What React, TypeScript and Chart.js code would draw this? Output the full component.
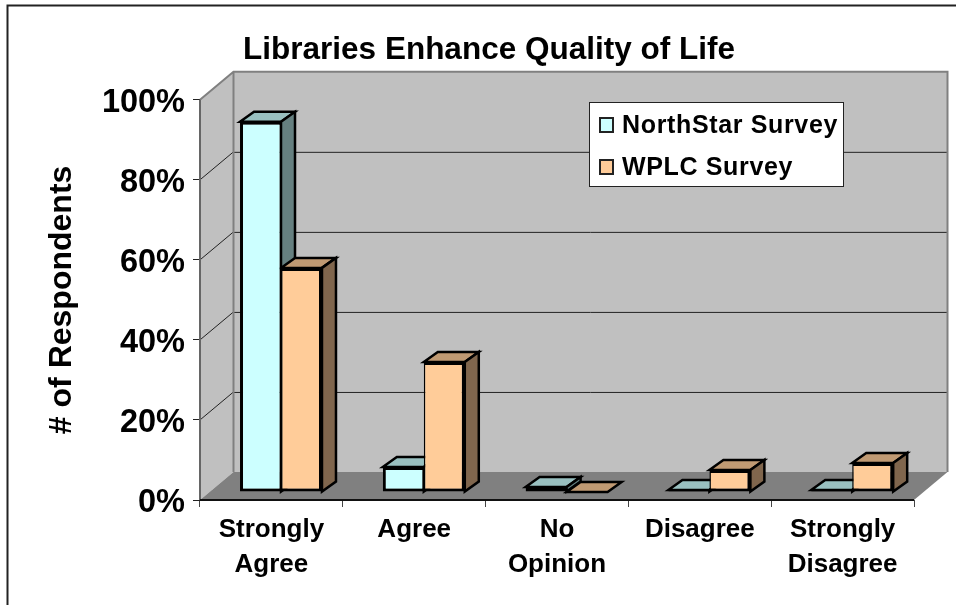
import React, { useEffect, useRef } from "react";
import { Chart, registerables } from "chart.js";

Chart.register(...registerables);

const TITLE = "Libraries Enhance Quality of Life";
const Y_TITLE = "# of Respondents";
const CATEGORIES = [["Strongly", "Agree"], ["Agree"], ["No", "Opinion"], ["Disagree"], ["Strongly", "Disagree"]];
const NORTHSTAR = [92.5, 6.25, 1.25, 0.5, 0.5];
const WPLC = [56, 32.5, 0, 5.5, 7.25];
const SERIES_NAMES = ["NorthStar Survey", "WPLC Survey"];
const FRONT_COLORS = ["#CCFFFF", "#FFCC99"];
const TOP_COLORS = ["#99C0C0", "#C09A73"];
const SIDE_COLORS = ["#668080", "#80664D"];
const FONT = "'Liberation Sans', Arial, sans-serif";

const WALL_DX = 33.5;
const WALL_DY = 28;
const BAR_SHIFT_X = 9.6;
const BAR_SHIFT_Y = 8;
const BAR_DX = 14;
const BAR_DY = 10;

const poly = (ctx: CanvasRenderingContext2D, pts: number[][], fill: string, stroke?: string, lw = 2) => {
  ctx.beginPath();
  pts.forEach(([x, y], i) => (i ? ctx.lineTo(x, y) : ctx.moveTo(x, y)));
  ctx.closePath();
  ctx.fillStyle = fill;
  ctx.fill();
  if (stroke) {
    ctx.strokeStyle = stroke;
    ctx.lineWidth = lw;
    ctx.lineJoin = "miter";
    ctx.stroke();
  }
};

const line = (ctx: CanvasRenderingContext2D, x1: number, y1: number, x2: number, y2: number, color: string, lw: number) => {
  ctx.beginPath();
  ctx.moveTo(x1, y1);
  ctx.lineTo(x2, y2);
  ctx.strokeStyle = color;
  ctx.lineWidth = lw;
  ctx.stroke();
};

const scene3d = {
  id: "scene3d",
  afterLayout(chart: any) {
    chart.titleBlock.left = 22;
    chart.titleBlock.right = 956;
  },
  beforeDraw(chart: any) {
    const { ctx, canvas } = chart;
    ctx.save();
    ctx.fillStyle = "#fff";
    ctx.fillRect(0, 0, canvas.width, canvas.height);
    ctx.beginPath();
    ctx.moveTo(7.5, 605);
    ctx.lineTo(7.5, 5.5);
    ctx.lineTo(956, 5.5);
    ctx.strokeStyle = "#222";
    ctx.lineWidth = 2;
    ctx.stroke();
    ctx.restore();
  },
  beforeDatasetsDraw(chart: any) {
    const { ctx, chartArea: a, scales } = chart;
    const y = scales.y;
    ctx.save();
    // walls and floor
    const bx = WALL_DX, by = WALL_DY;
    poly(ctx, [[a.left, a.bottom], [a.left, a.top], [a.left + bx, a.top - by], [a.left + bx, a.bottom - by]], "#C0C0C0");
    poly(ctx, [[a.left + bx, a.top - by], [a.right + bx, a.top - by], [a.right + bx, a.bottom - by], [a.left + bx, a.bottom - by]], "#C0C0C0");
    poly(ctx, [[a.left, a.bottom], [a.right, a.bottom], [a.right + bx, a.bottom - by], [a.left + bx, a.bottom - by]], "#808080");
    [20, 40, 60, 80].forEach((v) => {
      const py = y.getPixelForValue(v);
      line(ctx, a.left, py, a.left + bx, py - by, "#222", 1);
      line(ctx, a.left + bx, py - by + 0.5, a.right + bx, py - by + 0.5, "#222", 1);
    });
    // wall edges
    ctx.beginPath();
    ctx.moveTo(a.left, a.top);
    ctx.lineTo(a.left + bx, a.top - by);
    ctx.lineTo(a.right + bx, a.top - by);
    ctx.lineTo(a.right + bx, a.bottom - by);
    ctx.moveTo(a.left + bx, a.top - by);
    ctx.lineTo(a.left + bx, a.bottom - by);
    ctx.strokeStyle = "#808080";
    ctx.lineWidth = 2;
    ctx.stroke();
    line(ctx, a.left, a.top, a.left, a.bottom, "#666", 2);
    line(ctx, a.left, a.bottom, a.right, a.bottom, "#111", 2);
    // bars: depth faces first, fronts are drawn by the chart
    ctx.translate(BAR_SHIFT_X, -BAR_SHIFT_Y);
    [0, 1].forEach((ds) => {
      chart.getDatasetMeta(ds).data.forEach((bar: any) => {
        const w = bar.width / 2;
        const l = bar.x - w, r = bar.x + w, t = bar.y, b = bar.base;
        poly(ctx, [[l, t], [r, t], [r + BAR_DX, t - BAR_DY], [l + BAR_DX, t - BAR_DY]], TOP_COLORS[ds], "#000", 2.5);
        if (b > t) poly(ctx, [[r, t], [r + BAR_DX, t - BAR_DY], [r + BAR_DX, b - BAR_DY], [r, b]], SIDE_COLORS[ds], "#000", 2.5);
      });
    });
  },
  afterDatasetsDraw(chart: any) {
    const { ctx } = chart;
    ctx.restore();
    // legend box
    ctx.save();
    const lx = 589.5, ly = 102.5, lw = 254, lh = 84;
    ctx.fillStyle = "#fff";
    ctx.fillRect(lx, ly, lw, lh);
    ctx.strokeStyle = "#222";
    ctx.lineWidth = 1;
    ctx.strokeRect(lx, ly, lw, lh);
    ctx.font = `bold 25px ${FONT}`;
    ctx.textBaseline = "middle";
    ctx.textAlign = "left";
    (ctx as any).letterSpacing = "0.65px";
    chart.data.datasets.forEach((d: any, i: number) => {
      const cy = 125 + i * 42;
      ctx.fillStyle = d.backgroundColor;
      ctx.fillRect(600, cy - 7, 13, 14);
      ctx.strokeStyle = "#222";
      ctx.lineWidth = 2;
      ctx.strokeRect(600, cy - 7, 13, 14);
      ctx.fillStyle = "#000";
      ctx.fillText(d.label, 622, cy + 1);
    });
    ctx.restore();
  },
};

export default function App() {
  const ref = useRef<HTMLCanvasElement>(null);
  useEffect(() => {
    document.body.style.margin = "0";
    const chart = new Chart(ref.current!, {
      type: "bar",
      data: {
        labels: CATEGORIES as any,
        datasets: [NORTHSTAR, WPLC].map((data, i) => ({
          label: SERIES_NAMES[i],
          data,
          backgroundColor: FRONT_COLORS[i],
          borderColor: "#000",
          borderWidth: i === 0 ? { top: 3, right: 1.5, bottom: 3, left: 3 } : { top: 3, right: 3, bottom: 3, left: 1.5 },
          borderSkipped: false,
          categoryPercentage: 0.574,
          barPercentage: 1,
          clip: false as any,
        })),
      },
      options: {
        responsive: false,
        animation: false,
        layout: { padding: { left: 0, right: 42, top: 0, bottom: 0 } },
        plugins: {
          legend: { display: false },
          tooltip: { enabled: false },
          title: {
            display: true,
            text: TITLE,
            color: "#000",
            font: { family: FONT, size: 31.5, weight: "bold", lineHeight: 1.2 },
            padding: { top: 31, bottom: 31 },
          },
        },
        scales: {
          x: {
            afterFit: (s: any) => { s.height = 105; },
            border: { display: false },
            grid: { drawOnChartArea: false, tickLength: 7, color: "#444", lineWidth: 1 },
            ticks: {
              color: "#000",
              font: { family: FONT, size: 26, weight: "bold", lineHeight: 1.346 },
              padding: 5,
              maxRotation: 0,
              autoSkip: false,
            },
          },
          y: {
            min: 0,
            max: 100,
            afterFit: (s: any) => { s.width = 200; },
            border: { display: false },
            grid: { drawOnChartArea: false, tickLength: 7, color: "#222", lineWidth: 1 },
            title: {
              display: true,
              text: Y_TITLE,
              color: "#000",
              font: { family: FONT, size: 32, weight: "bold", lineHeight: 1.2 },
              padding: { top: 43, bottom: 0 },
            },
            ticks: {
              stepSize: 20,
              color: "#000",
              padding: 8,
              labelOffset: 3,
              font: { family: FONT, size: 32.5, weight: "bold" },
              callback: (v: any) => `${v}%`,
            },
          },
        },
      },
      plugins: [scene3d],
    } as any);
    return () => chart.destroy();
  }, []);
  return (
    <div style={{ position: "absolute", left: 0, top: 0, width: 956, height: 605 }}>
      <canvas ref={ref} width={956} height={605} style={{ display: "block" }} />
    </div>
  );
}
